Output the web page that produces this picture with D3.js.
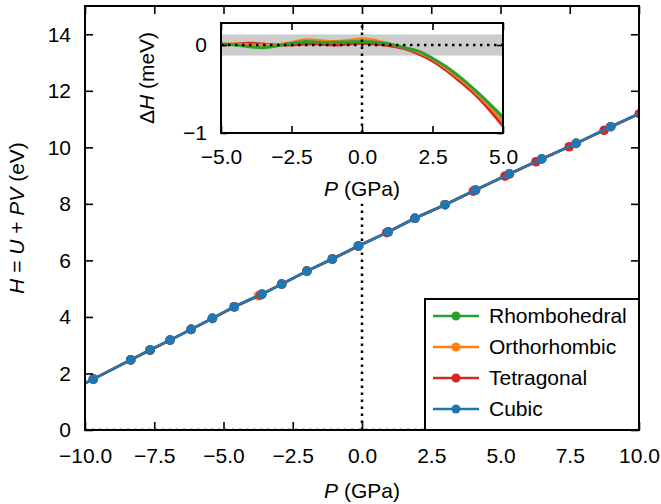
<!DOCTYPE html>
<html>
<head>
<meta charset="utf-8">
<script src="https://cdn.jsdelivr.net/npm/d3@7"></script>
<style>
  html, body { margin: 0; padding: 0; background: #fff; }
  svg { display: block; font-family: "Liberation Sans", Arial, sans-serif; }
  .tick text { font-size: 21px; fill: #000; }
</style>
</head>
<body>
<svg id="chart" width="661" height="504"></svg>
<script>
// main plot data: pressure (GPa) and enthalpy (eV) for each phase
const seriesNames = ['Rhombohedral', 'Orthorhombic', 'Tetragonal', 'Cubic']
const seriesColors = ['#2ca02c', '#ff7f0e', '#d62728', '#1f77b4']

const pRhombo = [-11.0, -9.70, -8.35, -7.65, -6.93, -6.17, -5.40, -4.61, -3.61, -2.90, -1.99, -1.07, -0.13, 0.95, 1.91, 3.00, 4.10, 5.32, 6.49, 7.73, 8.98, 10.25]
const hRhombo = [1.16, 1.80, 2.48, 2.83, 3.18, 3.56, 3.95, 4.36, 4.81, 5.16, 5.62, 6.05, 6.51, 7.01, 7.49, 7.97, 8.49, 9.06, 9.59, 10.14, 10.73, 11.30]
const pOrtho = [-11.0, -9.70, -8.35, -7.65, -6.93, -6.17, -5.40, -4.61, -3.74, -2.90, -1.99, -1.07, -0.13, 0.95, 1.91, 3.00, 4.10, 5.32, 6.49, 7.73, 8.98, 10.25]
const hOrtho = [1.16, 1.80, 2.48, 2.83, 3.18, 3.56, 3.95, 4.36, 4.75, 5.16, 5.62, 6.05, 6.51, 7.01, 7.49, 7.97, 8.49, 9.06, 9.59, 10.14, 10.73, 11.30]
const pTetra = [-11.0, -9.70, -8.35, -7.65, -6.93, -6.17, -5.40, -4.61, -3.66, -2.90, -1.99, -1.07, -0.13, 0.89, 1.91, 3.00, 4.02, 5.16, 6.28, 7.48, 8.74, 10.01, 11.30]
const hTetra = [1.16, 1.80, 2.48, 2.83, 3.18, 3.56, 3.95, 4.36, 4.78, 5.16, 5.62, 6.05, 6.51, 6.98, 7.49, 7.97, 8.45, 8.98, 9.49, 10.02, 10.60, 11.19, 11.77]
const pCubic = [-11.0, -9.70, -8.35, -7.65, -6.93, -6.17, -5.40, -4.61, -3.61, -2.90, -1.99, -1.07, -0.13, 0.95, 1.91, 3.00, 4.10, 5.32, 6.49, 7.73, 8.98, 10.25]
const hCubic = [1.16, 1.80, 2.48, 2.83, 3.18, 3.56, 3.95, 4.36, 4.81, 5.16, 5.62, 6.05, 6.51, 7.01, 7.49, 7.97, 8.49, 9.06, 9.59, 10.14, 10.73, 11.30]

// inset data: enthalpy difference to cubic (meV)
const pInset = [-5, -4.5, -4, -3.5, -3, -2.5, -2, -1.5, -1, -0.5, 0, 0.5, 1, 1.5, 2, 2.5, 3, 3.5, 4, 4.5, 5]
const dRhombo = [0.01, 0.0, -0.02, -0.03, -0.01, 0.02, 0.04, 0.03, 0.03, 0.035, 0.04, 0.03, 0.01, -0.03, -0.07, -0.15, -0.25, -0.37, -0.51, -0.66, -0.82]
const dOrtho = [0.01, 0.01, 0.0, 0.0, 0.0, 0.03, 0.06, 0.05, 0.04, 0.05, 0.07, 0.05, 0.01, -0.03, -0.08, -0.16, -0.27, -0.39, -0.53, -0.69, -0.87]
const dTetra = [0.0, 0.01, 0.02, 0.01, 0.0, 0.0, 0.01, 0.01, 0.0, 0.01, 0.02, 0.01, -0.01, -0.04, -0.10, -0.18, -0.29, -0.42, -0.56, -0.73, -0.92]
const bandHalfWidth = 0.12

const mainXTicks = [-10, -7.5, -5, -2.5, 0, 2.5, 5, 7.5, 10]
const mainYTicks = [0, 2, 4, 6, 8, 10, 12, 14]
const insetXTicks = [-5, -2.5, 0, 2.5, 5]
const insetYTicks = [-1, 0]

const fontSize = 21
const svg = d3.select('#chart')

// ---------- main axes ----------
const x = d3.scaleLinear().domain([-10, 10]).range([85, 639])
const y = d3.scaleLinear().domain([0, 15]).range([430, 6])

svg.append('clipPath').attr('id', 'mainClip')
  .append('rect')
  .attr('x', x(-10)).attr('y', y(15))
  .attr('width', x(10) - x(-10)).attr('height', y(0) - y(15))

const plot = svg.append('g').attr('clip-path', 'url(#mainClip)')

// dotted guide lines
plot.append('line')
  .attr('x1', x(0)).attr('x2', x(0))
  .attr('y1', y(0)).attr('y2', y(8))
  .attr('stroke', '#000').attr('stroke-width', 2.5)
  .attr('stroke-dasharray', '2.5,4.5')
plot.append('line')
  .attr('x1', x(-10)).attr('x2', x(10))
  .attr('y1', y(0)).attr('y2', y(0))
  .attr('stroke', '#000').attr('stroke-width', 2.5)
  .attr('stroke-dasharray', '2.5,4.5')

const mainSeries = [
  { p: pRhombo, h: hRhombo },
  { p: pOrtho, h: hOrtho },
  { p: pTetra, h: hTetra },
  { p: pCubic, h: hCubic }
]

const mainLine = d3.line().x(d => x(d[0])).y(d => y(d[1]))

mainSeries.forEach((s, i) => {
  const pts = s.p.map((p, j) => [p, s.h[j]])
  plot.append('path')
    .attr('d', mainLine(pts))
    .attr('fill', 'none')
    .attr('stroke', seriesColors[i])
    .attr('stroke-width', 2.6)
  plot.selectAll(null).data(pts).enter().append('circle')
    .attr('cx', d => x(d[0]))
    .attr('cy', d => y(d[1]))
    .attr('r', 4.8)
    .attr('fill', seriesColors[i])
})

function styleAxis(g) {
  g.select('.domain').remove()
  g.selectAll('.tick line').attr('stroke', '#000').attr('stroke-width', 1.6)
}

svg.append('g').attr('transform', `translate(0,${y(0)})`)
  .call(d3.axisBottom(x).tickValues(mainXTicks).tickFormat(d3.format('.1f')).tickSize(-8).tickPadding(18))
  .call(styleAxis)
svg.append('g').attr('transform', `translate(0,${y(15)})`)
  .call(d3.axisTop(x).tickValues(mainXTicks).tickFormat('').tickSize(-8))
  .call(styleAxis)
svg.append('g').attr('transform', `translate(${x(-10)},0)`)
  .call(d3.axisLeft(y).tickValues(mainYTicks).tickFormat(d3.format('d')).tickSize(-8).tickPadding(14))
  .call(styleAxis)
svg.append('g').attr('transform', `translate(${x(10)},0)`)
  .call(d3.axisRight(y).tickValues(mainYTicks).tickFormat('').tickSize(-8))
  .call(styleAxis)

svg.append('rect')
  .attr('x', x(-10)).attr('y', y(15))
  .attr('width', x(10) - x(-10)).attr('height', y(0) - y(15))
  .attr('fill', 'none').attr('stroke', '#000').attr('stroke-width', 2)

// axis labels
const xLab = svg.append('text')
  .attr('x', x(0)).attr('y', 498)
  .attr('text-anchor', 'middle').attr('font-size', fontSize)
xLab.append('tspan').attr('font-style', 'italic').text('P')
xLab.append('tspan').text(' (GPa)')

const yLab = svg.append('text')
  .attr('transform', `translate(24,${(y(0) + y(15)) / 2}) rotate(-90)`)
  .attr('text-anchor', 'middle').attr('font-size', fontSize)
yLab.append('tspan').attr('font-style', 'italic').text('H')
yLab.append('tspan').text(' = ')
yLab.append('tspan').attr('font-style', 'italic').text('U')
yLab.append('tspan').text(' + ')
yLab.append('tspan').attr('font-style', 'italic').text('PV')
yLab.append('tspan').text(' (eV)')

// legend
const legend = svg.append('g')
legend.append('rect')
  .attr('x', 425).attr('y', 299).attr('width', 214).attr('height', 131)
  .attr('fill', '#fff').attr('stroke', '#000').attr('stroke-width', 2)
seriesNames.forEach((name, i) => {
  const ly = 316 + i * 31
  legend.append('line')
    .attr('x1', 433).attr('x2', 479).attr('y1', ly).attr('y2', ly)
    .attr('stroke', seriesColors[i]).attr('stroke-width', 2.6)
  legend.append('circle')
    .attr('cx', 456).attr('cy', ly).attr('r', 4.5)
    .attr('fill', seriesColors[i])
  legend.append('text')
    .attr('x', 489).attr('y', ly + 7)
    .attr('font-size', fontSize)
    .text(name)
})

// ---------- inset ----------
const xi = d3.scaleLinear().domain([-5, 5]).range([221, 503])
const yi = d3.scaleLinear().domain([-1, 0.25]).range([133, 23])

svg.append('rect')
  .attr('x', xi(-5)).attr('y', yi(0.25))
  .attr('width', xi(5) - xi(-5)).attr('height', yi(-1) - yi(0.25))
  .attr('fill', '#fff')

svg.append('clipPath').attr('id', 'insetClip')
  .append('rect')
  .attr('x', xi(-5)).attr('y', yi(0.25))
  .attr('width', xi(5) - xi(-5)).attr('height', yi(-1) - yi(0.25))

const inset = svg.append('g').attr('clip-path', 'url(#insetClip)')

inset.append('rect')
  .attr('x', xi(-5)).attr('y', yi(bandHalfWidth))
  .attr('width', xi(5) - xi(-5)).attr('height', yi(-bandHalfWidth) - yi(bandHalfWidth))
  .attr('fill', '#cccccc')

const insetLine = d3.line().curve(d3.curveCatmullRom)
  .x(d => xi(d[0])).y(d => yi(d[1]))

// draw tetragonal, orthorhombic, rhombohedral (green on top)
const insetSeries = [
  { d: dTetra, c: seriesColors[2] },
  { d: dOrtho, c: seriesColors[1] },
  { d: dRhombo, c: seriesColors[0] }
]
insetSeries.forEach(s => {
  inset.append('path')
    .attr('d', insetLine(pInset.map((p, j) => [p, s.d[j]])))
    .attr('fill', 'none')
    .attr('stroke', s.c)
    .attr('stroke-width', 3)
})

inset.append('line')
  .attr('x1', xi(-5)).attr('x2', xi(5)).attr('y1', yi(0)).attr('y2', yi(0))
  .attr('stroke', '#000').attr('stroke-width', 2.5).attr('stroke-dasharray', '2.5,4.5')
inset.append('line')
  .attr('x1', xi(0)).attr('x2', xi(0)).attr('y1', yi(-1)).attr('y2', yi(0.25))
  .attr('stroke', '#000').attr('stroke-width', 2.5).attr('stroke-dasharray', '2.5,4.5')

svg.append('g').attr('transform', `translate(0,${yi(-1)})`)
  .call(d3.axisBottom(xi).tickValues(insetXTicks).tickFormat(d3.format('.1f')).tickSize(-7).tickPadding(16))
  .call(styleAxis)
svg.append('g').attr('transform', `translate(0,${yi(0.25)})`)
  .call(d3.axisTop(xi).tickValues(insetXTicks).tickFormat('').tickSize(-7))
  .call(styleAxis)
svg.append('g').attr('transform', `translate(${xi(-5)},0)`)
  .call(d3.axisLeft(yi).tickValues(insetYTicks).tickFormat(d3.format('d')).tickSize(-6).tickPadding(14))
  .call(styleAxis)
svg.append('g').attr('transform', `translate(${xi(5)},0)`)
  .call(d3.axisRight(yi).tickValues(insetYTicks).tickFormat('').tickSize(-6))
  .call(styleAxis)

svg.append('rect')
  .attr('x', xi(-5)).attr('y', yi(0.25))
  .attr('width', xi(5) - xi(-5)).attr('height', yi(-1) - yi(0.25))
  .attr('fill', 'none').attr('stroke', '#000').attr('stroke-width', 2)

const xiLab = svg.append('text')
  .attr('x', xi(0)).attr('y', 196)
  .attr('text-anchor', 'middle').attr('font-size', fontSize)
xiLab.append('tspan').attr('font-style', 'italic').text('P')
xiLab.append('tspan').text(' (GPa)')

const yiLab = svg.append('text')
  .attr('transform', `translate(154,${(yi(-1) + yi(0.25)) / 2}) rotate(-90)`)
  .attr('text-anchor', 'middle').attr('font-size', fontSize)
yiLab.append('tspan').text('Δ')
yiLab.append('tspan').attr('font-style', 'italic').text('H')
yiLab.append('tspan').text(' (meV)')
</script>
</body>
</html>
